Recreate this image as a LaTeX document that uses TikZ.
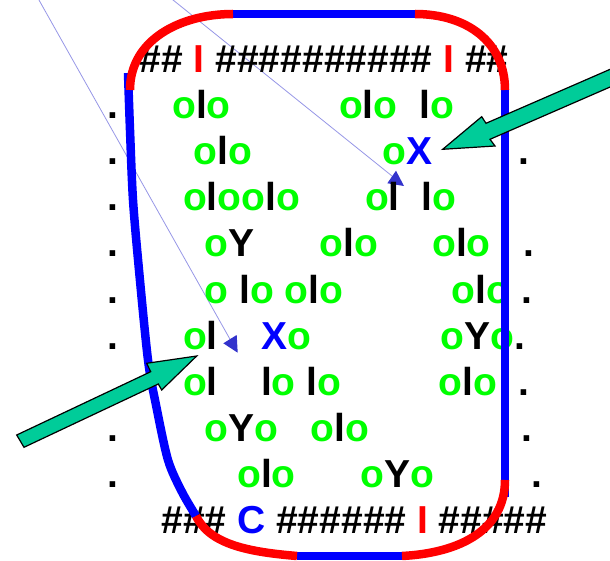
\documentclass[tikz,border=0pt]{standalone}
\usepackage{fontspec}
\setmainfont{Liberation Sans}
\definecolor{grn}{RGB}{0,255,0}
\definecolor{arrowfill}{RGB}{0,204,153}
\definecolor{thinline}{RGB}{150,150,230}
\definecolor{tipblue}{RGB}{51,51,204}
\newcommand\sk[1]{\hspace*{#1\fontdimen2\font}}
\newcommand\Go{{\color{grn}o}}
\newcommand\Bl[1]{{\color{blue}#1}}
\newcommand\Rd{{\color{red}I}}
\begin{document}
\begin{tikzpicture}[x=1pt,y=-1pt,
  rowtext/.style={anchor=base west, inner sep=0pt, font=\fontsize{39}{46}\selectfont\bfseries},
  frame/.style={line width=8.5pt},
  thinconn/.style={draw=thinline, line width=0.8pt},
  blockarrow/.style={fill=arrowfill, draw=black, line width=1.2pt, line join=miter}]
\useasboundingbox (0,0) rectangle (610,561);
\clip (0,0) rectangle (610,561);
% thin connectors
\coordinate (t1s) at (38.4,-1);
\coordinate (t1e) at (231,341);
\coordinate (t2s) at (171.8,-1);
\coordinate (t2e) at (392,176);
\draw[thinconn] (t1s) -- (t1e);
\draw[thinconn] (t2s) -- (t2e);
\fill[tipblue] (223.3,343.3) -- (236.7,335) -- (237.7,352.7) -- cycle;
\fill[tipblue] (396,170.7) -- (387.3,183.3) -- (404,186) -- cycle;
% text rows
\node[rowtext] (r0) at (107,73) {\sk3\#\#\sk1\Rd\sk1\#\#\#\#\#\#\#\#\#\#\sk1\Rd\sk1\#\#};
\node[rowtext] (r1) at (107,119) {.\sk5\Go l\Go\sk{10}\Go l\Go\sk2l\Go};
\node[rowtext] (r2) at (107,165) {.\sk7\Go l\Go\sk{12}\Go\Bl{X}\sk8.};
\node[rowtext] (r3) at (107,211) {.\sk6\Go l\Go\Go l\Go\sk6\Go l\sk2l\Go};
\node[rowtext] (r4) at (107,257) {.\sk8\Go Y\sk6\Go l\Go\sk5\Go l\Go\sk3.};
\node[rowtext] (r5) at (107,303) {.\sk8\Go\sk1l\Go\sk1\Go l\Go\sk{10}\Go l\Go\sk1.};
\node[rowtext] (r6) at (107,349) {.\sk6\Go l\sk4\Bl{X}\Go\sk{12}\Go Y\Go.};
\node[rowtext] (r7) at (107,395) {\phantom{.}\sk6\Go l\sk4l\Go\sk1l\Go\sk9\Go l\Go\sk2.};
\node[rowtext] (r8) at (107,441) {.\sk8\Go Y\Go\sk3\Go l\Go\sk{14}.};
\node[rowtext] (r9) at (107,487) {.\sk{11}\Go l\Go\sk6\Go Y\Go\sk9.};
\node[rowtext] (r10) at (107,533) {\sk5\#\#\#\sk1\Bl{C}\sk1\#\#\#\#\#\#\sk1\Rd\sk1\#\#\#\#\#};
% frame: blue parts
\draw[frame, blue] plot[smooth] coordinates {(128,73) (130,130) (133,200) (139,270) (148,360) (156,405) (168,460) (182,492) (196,516)};
\draw[frame, blue] (297,556) -- (402,556);
\draw[frame, blue] (505,90) -- (505,497);
\draw[frame, blue] (233,14) -- (415,14);
% frame: red corners
\draw[frame, red] (130,90) .. controls (130,40) and (180,14) .. (233,14);
\draw[frame, red] (415,14) .. controls (467,14) and (505,42) .. (505,90);
\draw[frame, red] (505,480) .. controls (505,530) and (460,553) .. (402,556);
\draw[frame, red] (196,516) .. controls (210,545) and (250,552) .. (297,556);
% block arrows
\draw[blockarrow] (442.7,149.3) -- (481.7,116.7) -- (486,123.3) -- (640,56.3) -- (640,74) -- (490,139.3) -- (495,146) -- cycle;
\draw[blockarrow] (196.7,356) -- (146.7,363.3) -- (150.7,371.7) -- (16.7,435) -- (24,447.3) -- (158.3,384) -- (161.7,390) -- cycle;
\end{tikzpicture}
\end{document}
